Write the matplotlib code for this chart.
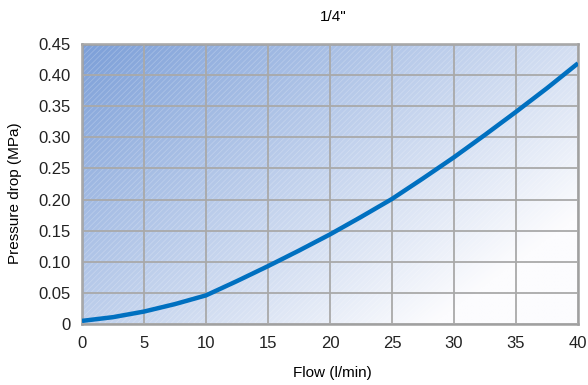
import numpy as np
import matplotlib.pyplot as plt
from matplotlib.patches import Rectangle
from matplotlib.ticker import FixedLocator, FixedFormatter

plt.rcParams["font.family"] = ["Liberation Sans", "DejaVu Sans"]
plt.rcParams["hatch.linewidth"] = 0.6

# Datos (caudal l/min -> caida de presion MPa)
flow = [0, 2.5, 5, 7.5, 10, 12.5, 15, 17.5, 20, 22.5, 25, 27.5, 30, 32.5, 35, 37.5, 40]
dp = [0.005, 0.011, 0.020, 0.032, 0.046, 0.069, 0.093, 0.118, 0.144, 0.172, 0.201, 0.234, 0.268, 0.304, 0.341, 0.379, 0.419]

x_ticks = [0, 5, 10, 15, 20, 25, 30, 35, 40]
y_ticks = [0, 0.05, 0.10, 0.15, 0.20, 0.25, 0.30, 0.35, 0.40, 0.45]
y_labels = ["0", "0.05", "0.10", "0.15", "0.20", "0.25", "0.30", "0.35", "0.40", "0.45"]

fig = plt.figure(figsize=(5.88, 3.85), dpi=100)
ax = fig.add_axes([82 / 588, 61 / 385, 496 / 588, 280 / 385])

# fondo degradado azul -> blanco en diagonal
u, v = np.meshgrid(np.linspace(0, 1, 300), np.linspace(1, 0, 200))
t = np.clip(0.68 * u + 0.52 * (1 - v), 0, 1)
c0 = np.array([124, 159, 216]) / 255
c1 = np.array([252, 252, 254]) / 255
img = c0[None, None, :] * (1 - t[..., None]) + c1[None, None, :] * t[..., None]
ax.imshow(img, extent=[0, 40, 0, 0.45], aspect="auto", zorder=0, interpolation="bilinear")

# rayado fino blanco encima del degradado
ax.add_patch(Rectangle((0, 0), 40, 0.45, facecolor="none", edgecolor=(1, 1, 1, 0.22),
                       hatch="//////", linewidth=0, zorder=0.5))

ax.set_xlim(0, 40)
ax.set_ylim(0, 0.45)
ax.xaxis.set_major_locator(FixedLocator(x_ticks))
ax.yaxis.set_major_locator(FixedLocator(y_ticks))
ax.yaxis.set_major_formatter(FixedFormatter(y_labels))
ax.grid(True, color="#a9a9a9", linewidth=1.3, zorder=1)
ax.set_axisbelow(False)
ax.tick_params(length=0, labelsize=12, colors="#222222")
ax.tick_params(axis="y", pad=8)
ax.tick_params(axis="x", pad=9)

for s in ax.spines.values():
    s.set_color("#a0a0a0")
    s.set_linewidth(1.8)

ax.plot(flow, dp, color="#0070c0", linewidth=3.2, solid_capstyle="butt", zorder=3)

ax.set_xlabel("Flow (l/min)", fontsize=11)
ax.set_ylabel("Pressure drop (MPa)", fontsize=11)
ax.xaxis.set_label_coords(332 / 588, 12 / 385, transform=fig.transFigure)
ax.yaxis.set_label_coords(15 / 588, 192 / 385, transform=fig.transFigure)
ax.xaxis.label.set_va("center")
ax.yaxis.label.set_va("center")
fig.text(333 / 588, 1 - 17 / 385, '1/4"', fontsize=11, ha="center", va="center")

fig.savefig("out.png", dpi=100)
